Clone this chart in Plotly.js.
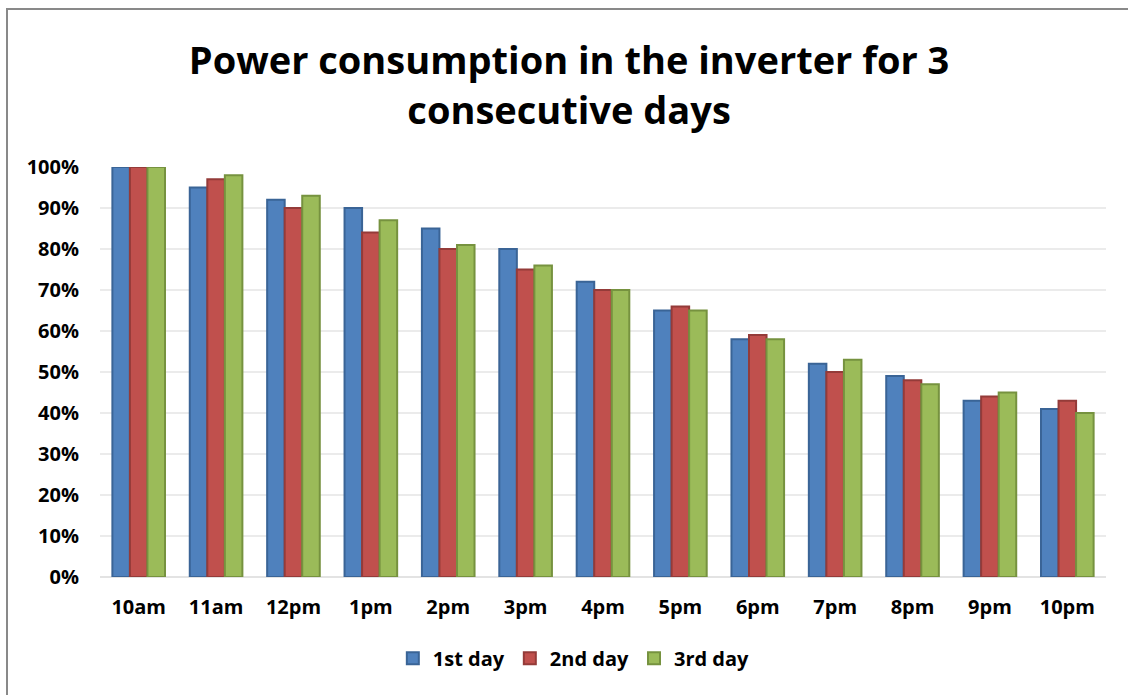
<!DOCTYPE html>
<html>
<head>
<meta charset="utf-8">
<script src="https://cdn.plot.ly/plotly-3.0.1.min.js"></script>
<style>
html,body{margin:0;padding:0;background:#fff;}
#wrap{position:relative;width:1128px;height:695px;overflow:hidden;}
#chart{width:1128px;height:695px;}
#frame{position:absolute;left:6px;top:8px;width:1130px;height:700px;border-left:2px solid #898989;border-top:2px solid #898989;pointer-events:none;}
</style>
</head>
<body>
<div id="wrap"><div id="chart"></div><div id="frame"></div></div>
<script>
const categories = ["10am","11am","12pm","1pm","2pm","3pm","4pm","5pm","6pm","7pm","8pm","9pm","10pm"];
const day1 = [100, 95, 92, 90, 85, 80, 72, 65, 58, 52, 49, 43, 41];
const day2 = [100, 97, 90, 84, 80, 75, 70, 66, 59, 50, 48, 44, 43];
const day3 = [100, 98, 93, 87, 81, 76, 70, 65, 58, 53, 47, 45, 40];
const seriesNames = ["1st day", "2nd day", "3rd day"];
const yTicks = [0,10,20,30,40,50,60,70,80,90,100];

const fills = ["#4F81BD", "#C0504D", "#9BBB59"];
const edges = ["#3A6496", "#943B39", "#76923F"];
const font = "'Open Sans', sans-serif";

const traces = [day1, day2, day3].map((vals, i) => ({
  type: "bar",
  name: seriesNames[i],
  x: categories,
  y: vals,
  marker: {color: fills[i], line: {color: edges[i], width: 2}},
  hoverinfo: "x+y+name"
}));

const layout = {
  width: 1128, height: 695,
  paper_bgcolor: "#fff", plot_bgcolor: "#fff",
  margin: {l: 100, r: 22, t: 167, b: 118, autoexpand: false},
  title: {
    text: "<b>Power consumption in the inverter for 3<br>consecutive days</b>",
    font: {family: font, size: 38, color: "#000"},
    x: 0.5045, xref: "container", xanchor: "center",
    y: 0.893, yref: "container", yanchor: "middle"
  },
  barmode: "group",
  bargap: 0.32,
  bargroupgap: 0,
  xaxis: {
    type: "category",
    tickfont: {family: font, size: 20, color: "#000", weight: "bold"},
    tickangle: 0,
    ticks: "", showline: false, showgrid: false,
    ticklabelstandoff: 16
  },
  yaxis: {
    range: [0, 100],
    tickvals: yTicks,
    ticktext: yTicks.map(v => v + "%"),
    tickfont: {family: font, size: 20, color: "#000", weight: "bold"},
    showgrid: true, gridcolor: "#EBEBEB", gridwidth: 2,
    zeroline: true, zerolinecolor: "#E3E3E3", zerolinewidth: 2,
    showline: false, ticks: "",
    ticklabelstandoff: 20
  },
  showlegend: true,
  legend: {
    orientation: "h",
    x: 0.471, xanchor: "center",
    y: -0.198, yanchor: "middle",
    font: {family: font, size: 20, color: "#000", weight: "bold"},
    itemwidth: 30
  }
};

Plotly.newPlot("chart", traces, layout, {displayModeBar: false, staticPlot: true});
</script>
</body>
</html>
